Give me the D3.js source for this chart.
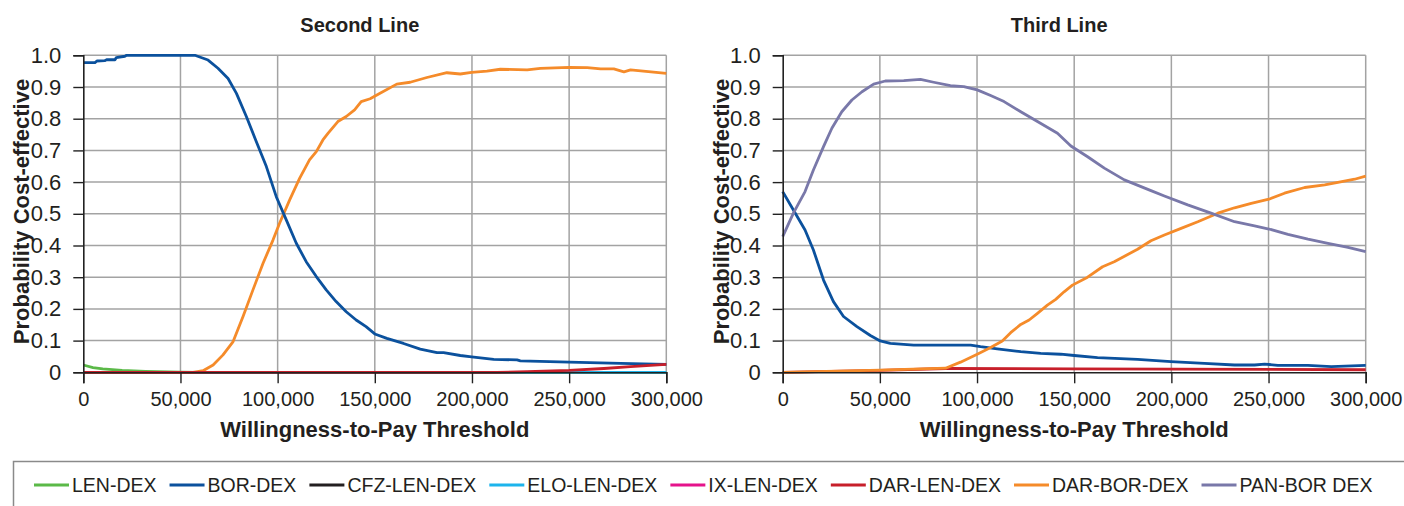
<!DOCTYPE html>
<html>
<head>
<meta charset="utf-8">
<script src="https://cdn.jsdelivr.net/npm/d3@7"></script>
<style>
  body { margin: 0; background: #fff; }
  svg { display: block; font-family: "Liberation Sans", Arial, Helvetica, sans-serif; }
</style>
</head>
<body>
<svg id="chart" width="1404" height="506"></svg>
<script>
// x ticks and y ticks
var xTicks = [0, 50000, 100000, 150000, 200000, 250000, 300000];
var yTicks = [0, 0.1, 0.2, 0.3, 0.4, 0.5, 0.6, 0.7, 0.8, 0.9, 1.0];

// legend: names and colours
var seriesNames = ["LEN-DEX", "BOR-DEX", "CFZ-LEN-DEX", "ELO-LEN-DEX", "IX-LEN-DEX",
  "DAR-LEN-DEX", "DAR-BOR-DEX", "PAN-BOR DEX"];
var seriesColors = ["#5bb948", "#0b519d", "#231f20", "#1cb4ec", "#e5138b",
  "#c71f2a", "#f58b2a", "#7978a9"];

// ---- Second Line: [wtp, probability] ----
var secondLenDex = [[0, 0.023], [5000, 0.015], [10000, 0.0105], [20000, 0.006],
  [32000, 0.003], [50000, 0.0005], [60000, 0], [300000, 0]];

var secondBorDex = [[0, 0.977], [6000, 0.977], [7000, 0.982], [11000, 0.983],
  [12000, 0.986], [16300, 0.986], [17000, 0.993], [21400, 0.997], [22300, 1.0],
  [57400, 1.0], [64200, 0.985], [69300, 0.959], [74500, 0.927], [78800, 0.88],
  [83900, 0.807], [89000, 0.728], [94200, 0.649], [99300, 0.554], [104500, 0.48],
  [109600, 0.407], [114700, 0.349], [119900, 0.302], [125000, 0.26],
  [130100, 0.223], [135300, 0.191], [140400, 0.165], [145500, 0.144],
  [150000, 0.121], [156200, 0.107], [164800, 0.091], [173400, 0.073],
  [182000, 0.062], [185400, 0.062], [194000, 0.053], [199800, 0.049],
  [211200, 0.041], [223200, 0.039], [224900, 0.036], [250000, 0.032],
  [276500, 0.028], [300000, 0.025]];

var secondEloLenDex = [[0, 0], [300000, 0]];

var secondDarBorDex = [[0, 0], [56500, 0], [61600, 0.005], [66800, 0.023],
  [71900, 0.055], [77100, 0.097], [82200, 0.176], [87300, 0.26], [92500, 0.344],
  [97600, 0.417], [101000, 0.47], [106200, 0.544], [111300, 0.612],
  [116400, 0.67], [119900, 0.696], [123300, 0.733], [125900, 0.754],
  [131000, 0.791], [135300, 0.807], [139600, 0.828], [143000, 0.854],
  [147600, 0.863], [152700, 0.88], [161300, 0.909], [168200, 0.915],
  [176800, 0.93], [187100, 0.945], [194000, 0.941], [199800, 0.946],
  [207700, 0.95], [214600, 0.956], [228400, 0.954], [235200, 0.959],
  [250000, 0.962], [259300, 0.961], [266200, 0.957], [273000, 0.957],
  [278200, 0.948], [281600, 0.954], [300000, 0.943]];

var secondDarLenDex = [[0, 0], [212900, 0], [228400, 0.002], [250000, 0.006],
  [267900, 0.012], [281600, 0.018], [300000, 0.025]];

// ---- Third Line ----
var thirdBorDex = [[0, 0.57], [5500, 0.512], [11500, 0.449], [15800, 0.386],
  [21000, 0.291], [26100, 0.223], [31300, 0.176], [38200, 0.144], [45100, 0.116],
  [50200, 0.099], [55400, 0.091], [67400, 0.086], [81200, 0.086], [96700, 0.086],
  [101800, 0.081], [110400, 0.074], [122500, 0.065], [132800, 0.06],
  [143100, 0.057], [150000, 0.053], [162000, 0.046], [182600, 0.041],
  [199800, 0.034], [217000, 0.028], [232500, 0.023], [242800, 0.023],
  [248000, 0.026], [254800, 0.022], [270300, 0.022], [282300, 0.018],
  [300000, 0.022]];

var thirdDarLenDex = [[0, 0], [50200, 0.006], [83800, 0.012], [150000, 0.011],
  [300000, 0.008]];

var thirdDarBorDex = [[0, 0], [50200, 0.007], [83800, 0.013], [91500, 0.032],
  [100100, 0.057], [107000, 0.078], [113000, 0.099], [117300, 0.125],
  [122500, 0.151], [126800, 0.165], [131100, 0.186], [136200, 0.212],
  [140500, 0.23], [144800, 0.254], [149100, 0.275], [156900, 0.3],
  [164600, 0.333], [170600, 0.349], [182600, 0.388], [189500, 0.415],
  [196400, 0.433], [205000, 0.454], [213600, 0.475], [223900, 0.502],
  [232500, 0.519], [241100, 0.533], [250200, 0.546], [258200, 0.565],
  [268600, 0.583], [278900, 0.591], [285700, 0.599], [294300, 0.609],
  [300000, 0.619]];

var thirdPanBorDex = [[0, 0.428], [5500, 0.502], [11500, 0.57], [15800, 0.638],
  [21000, 0.712], [25300, 0.77], [30400, 0.822], [35600, 0.859], [40800, 0.885],
  [46800, 0.909], [52800, 0.919], [62300, 0.92], [70900, 0.924], [77700, 0.915],
  [86300, 0.904], [93200, 0.901], [100100, 0.891], [107000, 0.873],
  [113900, 0.854], [122500, 0.822], [131100, 0.791], [141400, 0.754],
  [148300, 0.714], [156900, 0.68], [165500, 0.644], [175800, 0.607],
  [189500, 0.573], [196400, 0.556], [208400, 0.528], [220400, 0.502],
  [232500, 0.475], [242800, 0.462], [250200, 0.452], [260000, 0.435],
  [270300, 0.42], [280600, 0.407], [290900, 0.394], [300000, 0.381]];

var svg = d3.select("#chart");
var width = +svg.attr("width"), height = +svg.attr("height");

svg.append("rect").attr("width", width).attr("height", height).attr("fill", "#fff");

function colorOf(name) {
  return seriesColors[seriesNames.indexOf(name)];
}

function makePanel(left, title, series) {
  /* one panel: left = pixel x of the y axis, series = [[name, data], ...] */
  var x = d3.scaleLinear().domain([0, 300000]).range([left, left + 583]);
  var y = d3.scaleLinear().domain([0, 1]).range([372.3, 55.3]);
  var g = svg.append("g");

  // grid
  g.selectAll(".hgrid").data(yTicks.slice(1)).enter().append("line")
    .attr("x1", x(0)).attr("x2", x(300000))
    .attr("y1", function(d) { return y(d); }).attr("y2", function(d) { return y(d); })
    .attr("stroke", "#a3a3a3").attr("stroke-width", 1.5);
  g.selectAll(".vgrid").data(xTicks.slice(1)).enter().append("line")
    .attr("x1", function(d) { return x(d); }).attr("x2", function(d) { return x(d); })
    .attr("y1", y(0)).attr("y2", y(1))
    .attr("stroke", "#a3a3a3").attr("stroke-width", 1.5);

  // lines
  var line = d3.line()
    .x(function(d) { return x(d[0]); })
    .y(function(d) { return y(d[1]); });
  g.selectAll(".series").data(series).enter().append("path")
    .attr("d", function(d) { return line(d[1]); })
    .attr("fill", "none")
    .attr("stroke", function(d) { return colorOf(d[0]); })
    .attr("stroke-width", 2.8)
    .attr("stroke-linejoin", "round");

  // axes
  var yAxis = d3.axisLeft(y).tickValues(yTicks).tickSize(10).tickPadding(12)
    .tickFormat(function(d) { return d === 0 ? "0" : d3.format(".1f")(d); });
  var xAxis = d3.axisBottom(x).tickValues(xTicks).tickSize(11).tickPadding(9)
    .tickFormat(d3.format(","));

  var ya = g.append("g").attr("transform", "translate(" + x(0) + ",0)").call(yAxis);
  var xa = g.append("g").attr("transform", "translate(0," + y(0) + ")").call(xAxis);
  ya.select(".domain").attr("stroke", "#222").attr("stroke-width", 1.6);
  xa.select(".domain").attr("stroke", "#222").attr("stroke-width", 1.6);
  ya.selectAll(".tick line").attr("stroke", "#222").attr("stroke-width", 1.4);
  xa.selectAll(".tick line").attr("stroke", "#222").attr("stroke-width", 1.4);
  ya.selectAll("text").attr("font-size", 22).attr("fill", "#231f20")
    .attr("font-family", "Liberation Sans, Arial, sans-serif");
  xa.selectAll("text").attr("font-size", 20).attr("fill", "#231f20")
    .attr("font-family", "Liberation Sans, Arial, sans-serif");

  // titles
  g.append("text").attr("x", (x(0) + x(300000)) / 2 - 15).attr("y", 31.5)
    .attr("text-anchor", "middle").attr("font-size", 20).attr("font-weight", "bold")
    .attr("fill", "#231f20").text(title);
  g.append("text").attr("x", (x(0) + x(300000)) / 2).attr("y", 437)
    .attr("text-anchor", "middle").attr("font-size", 22).attr("font-weight", "bold")
    .attr("fill", "#231f20").text("Willingness-to-Pay Threshold");
  g.append("text")
    .attr("transform", "translate(" + (left - 54) + "," + 211.5 + ") rotate(-90)")
    .attr("text-anchor", "middle").attr("font-size", 22).attr("font-weight", "bold")
    .attr("fill", "#231f20").text("Probability Cost-effective");
}

makePanel(83.3, "Second Line", [
  ["LEN-DEX", secondLenDex],
  ["ELO-LEN-DEX", secondEloLenDex],
  ["DAR-BOR-DEX", secondDarBorDex],
  ["BOR-DEX", secondBorDex],
  ["DAR-LEN-DEX", secondDarLenDex]
]);

makePanel(782.7, "Third Line", [
  ["DAR-LEN-DEX", thirdDarLenDex],
  ["BOR-DEX", thirdBorDex],
  ["DAR-BOR-DEX", thirdDarBorDex],
  ["PAN-BOR DEX", thirdPanBorDex]
]);

// legend box (runs off the bottom/right of the picture)
svg.append("rect").attr("x", 13.5).attr("y", 461.5).attr("width", 1420).attr("height", 80)
  .attr("fill", "none").attr("stroke", "#8a8a8a").attr("stroke-width", 1.5);

var lx = 34;
seriesNames.forEach(function(name, i) {
  svg.append("line").attr("x1", lx).attr("x2", lx + 35).attr("y1", 485).attr("y2", 485)
    .attr("stroke", seriesColors[i]).attr("stroke-width", 3);
  var t = svg.append("text").attr("x", lx + 38).attr("y", 485).attr("dy", "0.35em")
    .attr("font-size", 19.5).attr("fill", "#231f20").text(name);
  lx += 38 + t.node().getComputedTextLength() + 13;
});
</script>
</body>
</html>
